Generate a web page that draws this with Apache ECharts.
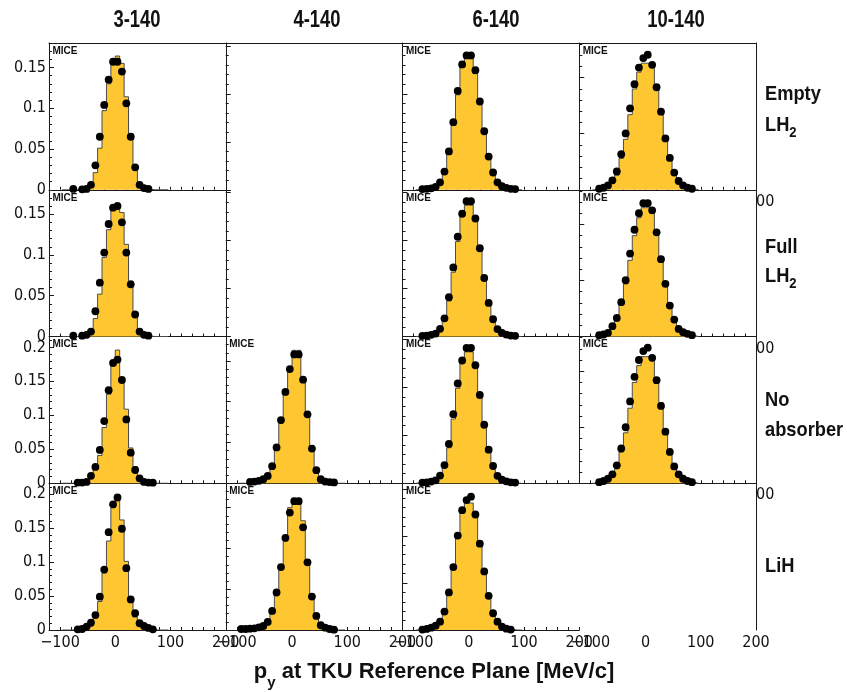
<!DOCTYPE html>
<html><head><meta charset="utf-8">
<script src="https://cdn.jsdelivr.net/npm/echarts@6/dist/echarts.min.js"></script>
<style>html,body{margin:0;padding:0;background:#fff}#c{width:847px;height:692px}</style>
</head><body><div id="c"></div>
<script>
// ---------------- data ----------------
const columnTitles = ['3-140', '4-140', '6-140', '10-140'];
const rowTitles = [['Empty', 'LH', '2'], ['Full', 'LH', '2'], ['No', 'absorber'], ['LiH']];
const binCenters = [-92,-84,-76,-68,-60,-52,-44,-36,-28,-20,-12,-4,4,12,20,28,36,44,52,60,68,76,84,92];
const binWidth = 8;
const xRange = [-120, 200];
const xTickLabels = [-100, 0, 100, 200];
const axisTitle = ['p', 'y', ' at TKU Reference Plane [MeV/c]'];
const panelTag = 'MICE';

// 3-140
const data_3_empty = [null,null,0.001,null,0.0005,0.001,0.006,0.030,0.065,0.104,0.135,0.157,0.157,0.145,0.106,0.065,0.0275,0.006,0.002,0.001,null,null,null,null];
const mc_3_empty   = [0,0,0,0,0.0005,0.002,0.008,0.021,0.051,0.097,0.130,0.155,0.164,0.155,0.114,0.069,0.025,0.006,0.002,0.0005,0,0,0,0];
const data_3_full  = [null,null,0.001,null,0.001,0.002,0.006,0.031,0.066,0.103,0.138,0.158,0.160,0.140,0.103,0.064,0.027,0.006,0.002,0.001,null,null,null,null];
const mc_3_full    = [0,0,0,0,0.0005,0.002,0.008,0.022,0.052,0.097,0.131,0.156,0.164,0.152,0.113,0.068,0.025,0.006,0.002,0.0005,0,0,0,0];
const data_3_none  = [null,null,null,0.001,0.001,0.002,0.011,0.024,0.049,0.0915,0.137,0.177,0.182,0.152,0.094,0.045,0.0195,0.0073,0.002,0.001,0.0008,null,null,null];
const mc_3_none    = [0,0,0,0,0.001,0.002,0.0084,0.0206,0.041,0.082,0.131,0.178,0.196,0.150,0.109,0.052,0.0245,0.008,0.002,0.001,0,0,0,0];
const data_3_lih   = [null,null,null,0.001,0.0015,0.005,0.011,0.022,0.049,0.089,0.144,0.185,0.195,0.149,0.091,0.045,0.0247,0.0099,0.0059,0.003,0.001,null,null,null];
const mc_3_lih     = [0,0,0,0,0.002,0.004,0.006,0.0197,0.042,0.084,0.131,0.180,0.195,0.162,0.101,0.047,0.019,0.006,0.004,0.002,0,0,0,0];
// 4-140
const data_4_none  = [null,null,0.0016,0.002,0.003,0.005,0.009,0.021,0.044,0.0775,0.112,0.140,0.158,0.158,0.127,0.0845,0.0425,0.016,0.005,0.002,0.0015,0.001,null,null];
const mc_4_none    = [0,0,0,0.001,0.002,0.004,0.009,0.022,0.041,0.074,0.110,0.143,0.163,0.163,0.124,0.085,0.045,0.017,0.006,0.002,0.001,0,0,0];
const data_4_lih   = [0.0012,0.0012,0.0016,0.002,0.0033,0.0049,0.0099,0.0234,0.046,0.0772,0.113,0.144,0.158,0.158,0.126,0.083,0.041,0.0173,0.0058,0.0029,0.0012,0.0004,null,null];
const mc_4_lih     = [0,0,0,0.001,0.003,0.005,0.011,0.024,0.046,0.077,0.109,0.150,0.1615,0.1615,0.134,0.086,0.043,0.016,0.006,0.003,0.001,0,0,0];
// 6-140
const data_6_empty = [null,0.0007,0.001,0.0015,0.003,0.0077,0.019,0.040,0.0705,0.103,0.1307,0.140,0.140,0.1247,0.092,0.061,0.0346,0.018,0.0077,0.0037,0.002,0.001,0.0007,null];
const mc_6_empty   = [0,0,0.001,0.0015,0.004,0.0094,0.020,0.037,0.067,0.099,0.128,0.137,0.137,0.121,0.092,0.062,0.037,0.020,0.0094,0.0035,0.0015,0.0005,0,0];
const data_6_full  = [null,0.0007,0.001,0.0017,0.003,0.008,0.019,0.041,0.072,0.104,0.128,0.141,0.141,0.123,0.092,0.061,0.035,0.018,0.0077,0.0037,0.002,0.001,0.0007,null];
const mc_6_full    = [0,0,0.001,0.0015,0.004,0.0094,0.020,0.037,0.067,0.099,0.128,0.137,0.137,0.121,0.092,0.062,0.037,0.020,0.0094,0.0035,0.0015,0.0005,0,0];
const data_6_none  = [null,0.0007,0.001,0.0017,0.003,0.008,0.019,0.041,0.072,0.104,0.128,0.141,0.141,0.123,0.092,0.061,0.035,0.018,0.0077,0.0037,0.002,0.001,0.0007,null];
const mc_6_none    = [0,0,0.001,0.0015,0.004,0.0094,0.020,0.037,0.067,0.099,0.128,0.137,0.137,0.121,0.092,0.062,0.037,0.020,0.0094,0.0035,0.0015,0.0005,0,0];
const data_6_lih   = [null,0.0004,0.0011,0.0025,0.0046,0.0089,0.0196,0.0399,0.0669,0.1004,0.1274,0.1381,0.1417,0.1228,0.0918,0.0623,0.0363,0.0178,0.0089,0.0036,0.0014,0.0004,null,null];
const mc_6_lih     = [0,0,0.001,0.002,0.004,0.008,0.019,0.037,0.064,0.099,0.127,0.135,0.135,0.125,0.094,0.064,0.039,0.020,0.009,0.004,0.0015,0.0005,0,0];
// 10-140
const data_10_empty = [null,0.0009,0.0018,0.0039,0.0084,0.0164,0.0317,0.0503,0.0727,0.0942,0.1091,0.1175,0.1205,0.1115,0.0915,0.0697,0.0458,0.0284,0.0153,0.0078,0.0039,0.0018,0.0009,null];
const mc_10_empty   = [0,0.001,0.002,0.003,0.006,0.013,0.028,0.045,0.067,0.090,0.105,0.113,0.113,0.113,0.093,0.072,0.048,0.028,0.014,0.006,0.003,0.002,0.001,0];
const data_10_full  = [null,0.0012,0.0018,0.0033,0.0092,0.0166,0.0306,0.0502,0.074,0.0953,0.110,0.119,0.119,0.1126,0.093,0.069,0.047,0.0276,0.0151,0.0068,0.0039,0.0024,0.0012,null];
const mc_10_full    = [0,0.001,0.002,0.003,0.007,0.014,0.029,0.047,0.068,0.090,0.106,0.115,0.115,0.113,0.094,0.071,0.047,0.028,0.014,0.006,0.003,0.002,0.001,0];
const data_10_none  = [null,0.001,0.002,0.004,0.008,0.016,0.031,0.050,0.073,0.095,0.110,0.118,0.121,0.112,0.092,0.069,0.046,0.028,0.015,0.008,0.004,0.002,0.001,null];
const mc_10_none    = [0,0.001,0.002,0.003,0.006,0.013,0.028,0.045,0.067,0.090,0.105,0.113,0.113,0.113,0.093,0.072,0.048,0.028,0.014,0.006,0.003,0.002,0.001,0];

// cells: col, row, y-axis max, data, mc ; kind: 'hist' | 'axisOnly' | 'labelsOnly'
const cells = [
  {col:0,row:0,kind:'hist',ymax:0.18, data:data_3_empty, mc:mc_3_empty},
  {col:0,row:1,kind:'hist',ymax:0.18, data:data_3_full,  mc:mc_3_full},
  {col:0,row:2,kind:'hist',ymax:0.216,data:data_3_none,  mc:mc_3_none},
  {col:0,row:3,kind:'hist',ymax:0.216,data:data_3_lih,   mc:mc_3_lih},
  {col:1,row:0,kind:'axisOnly',ymax:0.153},
  {col:1,row:1,kind:'axisOnly',ymax:0.153},
  {col:1,row:2,kind:'hist',ymax:0.18, data:data_4_none,  mc:mc_4_none},
  {col:1,row:3,kind:'hist',ymax:0.18, data:data_4_lih,   mc:mc_4_lih},
  {col:2,row:0,kind:'hist',ymax:0.153,data:data_6_empty, mc:mc_6_empty},
  {col:2,row:1,kind:'hist',ymax:0.153,data:data_6_full,  mc:mc_6_full},
  {col:2,row:2,kind:'hist',ymax:0.153,data:data_6_none,  mc:mc_6_none},
  {col:2,row:3,kind:'hist',ymax:0.156,data:data_6_lih,   mc:mc_6_lih},
  {col:3,row:0,kind:'hist',ymax:0.131,data:data_10_empty,mc:mc_10_empty},
  {col:3,row:1,kind:'hist',ymax:0.131,data:data_10_full, mc:mc_10_full},
  {col:3,row:2,kind:'hist',ymax:0.131,data:data_10_none, mc:mc_10_none},
  {col:3,row:3,kind:'labelsOnly',ymax:0.15}
];

// ---------------- layout / style ----------------
const GL = 49, GT = 43, CW = 176.75, CH = 146.75;
const FONT = "'DejaVu Sans Condensed','Liberation Sans',Arial,sans-serif";
const FONT_W = "'Liberation Sans',Arial,sans-serif";
const AX = '#1a1a1a';
const FILL = '#fec731';
const EDGE = '#4a4a4a';

const grids = [], xAxes = [], yAxes = [], series = [], graphics = [];

function fmtX(v) {
  if (xTickLabels.indexOf(v) < 0) return '';
  return v < 0 ? '\u2212' + Math.abs(v) : String(v);
}

cells.forEach((c, gi) => {
  const left = GL + c.col * CW, top = GT + c.row * CH;
  grids.push({left: left, top: top, width: CW, height: CH, containLabel: false});
  const isHist = c.kind === 'hist';
  const bottomRow = c.row === 3;
  xAxes.push({
    gridIndex: gi, type: 'value', min: xRange[0], max: xRange[1], interval: 20,
    position: 'bottom',
    show: c.kind !== 'axisOnly',
    axisLine: {show: isHist, onZero: false, lineStyle: {color: AX, width: 1}},
    axisTick: {show: isHist, inside: true, length: 3, lineStyle: {color: AX}},
    axisLabel: {show: bottomRow, formatter: fmtX, margin: 5, fontSize: 16, color: '#111', fontFamily: FONT},
    splitLine: {show: false}
  });
  const xi = xAxes.length - 1;
  if (c.row === 0) {
    xAxes.push({gridIndex: gi, type: 'value', min: xRange[0], max: xRange[1], position: 'top',
      axisLine: {show: true, onZero: false, lineStyle: {color: AX}}, axisTick: {show: false},
      axisLabel: {show: false}, splitLine: {show: false}});
  }
  yAxes.push({
    gridIndex: gi, type: 'value', min: 0, max: c.ymax, interval: 0.05, position: 'left',
    show: c.kind !== 'labelsOnly',
    axisLine: {show: true, onZero: false, lineStyle: {color: AX, width: 1}},
    axisTick: {show: true, inside: true, length: 5, lineStyle: {color: AX}},
    minorTick: {show: true, splitNumber: 5, length: 3, lineStyle: {color: AX}},
    axisLabel: {show: c.col === 0, showMaxLabel: false, margin: 3, fontSize: 16, color: '#111', fontFamily: FONT},
    splitLine: {show: false}
  });
  const yi = yAxes.length - 1;
  if (c.col === 3) {
    yAxes.push({gridIndex: gi, type: 'value', min: 0, max: c.ymax, position: 'right',
      axisLine: {show: true, onZero: false, lineStyle: {color: AX}}, axisTick: {show: false},
      axisLabel: {show: false}, splitLine: {show: false}});
  }
  if (isHist) {
    const stairs = [[binCenters[0] - binWidth / 2, 0]];
    binCenters.forEach((x, i) => {
      stairs.push([x - binWidth / 2, c.mc[i]]);
      stairs.push([x + binWidth / 2, c.mc[i]]);
    });
    stairs.push([binCenters[binCenters.length - 1] + binWidth / 2, 0]);
    series.push({
      type: 'line', xAxisIndex: xi, yAxisIndex: yi, data: stairs, showSymbol: false, symbol: 'none',
      lineStyle: {color: EDGE, width: 1}, areaStyle: {color: FILL, opacity: 1}, z: 2, silent: true, clip: true
    });
    series.push({
      type: 'scatter', xAxisIndex: xi, yAxisIndex: yi,
      data: binCenters.map((x, i) => c.data[i] == null ? null : [x, c.data[i]]).filter(d => d),
      symbol: 'circle', symbolSize: 7.8, itemStyle: {color: '#000', opacity: 1}, z: 3, silent: true, clip: false
    });
    graphics.push({type: 'text', left: left + 3.5, top: top + 3, z: 10,
      style: {text: panelTag, font: 'bold 10px ' + FONT_W, fill: '#111'}});
  }
});

// column titles
const colTitleX = [137, 317, 496, 676];
columnTitles.forEach((t, i) => {
  graphics.push({type: 'text', x: colTitleX[i], y: 21, scaleX: 0.8, z: 10,
    style: {text: t, font: 'bold 23px ' + FONT_W, fill: '#111', textAlign: 'center', textVerticalAlign: 'middle'}});
});

// row titles
const rowLineY = [[94, 125], [247.5, 276], [400, 430], [566.5]];
function subText(main, sub, size, subSize, pad) {
  return {
    text: '{m|' + main + '}{s|' + sub + '}',
    rich: {
      m: {fontSize: size, fontWeight: 'bold', fontFamily: FONT_W, fill: '#111', lineHeight: size, verticalAlign: 'top'},
      s: {fontSize: subSize, fontWeight: 'bold', fontFamily: FONT_W, fill: '#111', lineHeight: subSize, padding: [pad, 0, 0, 0], verticalAlign: 'top'}
    }
  };
}
const RS = 0.87;
rowTitles.forEach((lines, r) => {
  graphics.push({type: 'text', x: 765, y: rowLineY[r][0], scaleX: RS, z: 10,
    style: {text: lines[0], font: 'bold 21px ' + FONT_W, fill: '#111', textAlign: 'left', textVerticalAlign: 'middle'}});
  if (lines.length === 3) {
    const st = subText(lines[1], lines[2], 21, 15, 10);
    graphics.push({type: 'text', x: 765, y: rowLineY[r][1] - 10, scaleX: RS, z: 10,
      style: Object.assign({textAlign: 'left', textVerticalAlign: 'top'}, st)});
  } else if (lines.length === 2) {
    graphics.push({type: 'text', x: 765, y: rowLineY[r][1], scaleX: RS, z: 10,
      style: {text: lines[1], font: 'bold 21px ' + FONT_W, fill: '#111', textAlign: 'left', textVerticalAlign: 'middle'}});
  }
});

// x axis title
{
  const st = subText(axisTitle[0], axisTitle[1], 22, 15, 14);
  st.text = '{m|' + axisTitle[0] + '}{s|' + axisTitle[1] + '}{m|' + axisTitle[2] + '}';
  graphics.push({type: 'text', x: 434, y: 661, z: 10,
    style: Object.assign({textAlign: 'center', textVerticalAlign: 'top'}, st)});
}

// clipped "200" tick labels peeking out right of the last column
[0, 1, 2].forEach(r => {
  graphics.push({type: 'text', x: 756, y: GT + (r + 1) * CH + 12, z: 10,
    style: {text: '00', font: '16px ' + FONT, fill: '#111', textAlign: 'left', textVerticalAlign: 'middle'}});
});

const chart = echarts.init(document.getElementById('c'));
chart.setOption({
  animation: false,
  backgroundColor: '#fff',
  grid: grids, xAxis: xAxes, yAxis: yAxes, series: series,
  graphic: {elements: graphics}
});
</script></body></html>
